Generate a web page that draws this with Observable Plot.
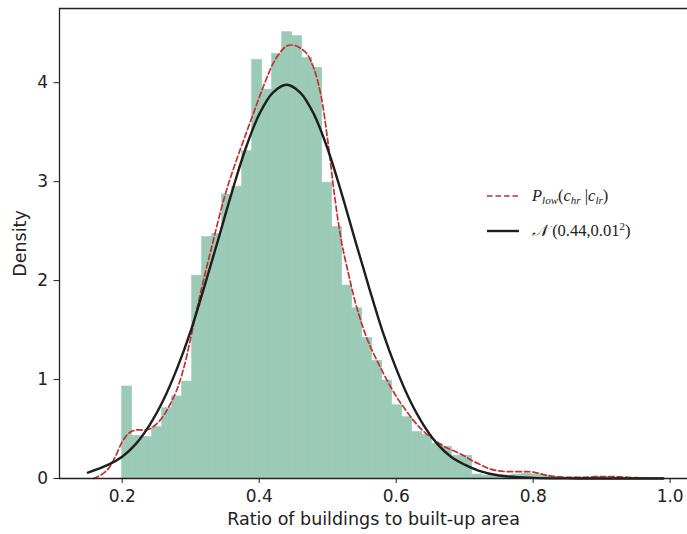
<!DOCTYPE html>
<html><head><meta charset="utf-8">
<script src="https://cdn.jsdelivr.net/npm/d3@7"></script>
<script src="https://cdn.jsdelivr.net/npm/@observablehq/plot@0.6"></script>
<style>
html,body{margin:0;padding:0;background:#fff;overflow:hidden}
#wrap{position:relative;width:687px;height:534px}
#legend{position:absolute;left:0;top:0;pointer-events:none}
</style></head><body><div id="wrap"></div>
<script>
// Histogram (density) — bins start at 0.2, width ~0.0146
const binStart = 0.2;
const binWidth = 0.0146;
const histDensity = [
  0.93, 0.43, 0.42, 0.52, 0.71, 0.83, 0.98, 2.05, 2.44, 2.47,
  2.87, 2.95, 3.31, 4.23, 3.93, 4.29, 4.51, 4.47, 4.25, 4.15,
  2.99, 2.54, 1.95, 1.72, 1.42, 1.19, 0.99, 0.74, 0.62, 0.47,
  0.44, 0.35, 0.32, 0.23, 0.23, 0.04, 0.03, 0.03, 0.03, 0.04,
  0.05, 0.04, 0.03, 0.02, 0.01, 0.01, 0.01, 0.015, 0.015, 0.01,
  0.008, 0.005, 0.003, 0.003
];

// KDE curve P_low(c_hr | c_lr)
const kdeX = [0.158,0.170,0.180,0.190,0.200,0.210,0.220,0.230,0.240,0.250,
  0.260,0.270,0.280,0.290,0.300,0.310,0.320,0.330,0.340,0.350,
  0.360,0.370,0.380,0.390,0.400,0.410,0.420,0.430,0.440,0.450,
  0.460,0.470,0.480,0.490,0.500,0.510,0.520,0.530,0.540,0.550,
  0.560,0.575,0.590,0.601,0.613,0.626,0.638,0.650,0.662,0.674,
  0.687,0.699,0.711,0.723,0.735,0.747,0.760,0.775,0.790,0.800,
  0.810,0.820,0.835,0.850,0.870,0.890,0.910,0.930,0.950,0.970,0.990];
const kdeY = [0.0,0.04,0.10,0.22,0.37,0.46,0.49,0.49,0.50,0.55,
  0.63,0.75,0.90,1.12,1.42,1.74,2.04,2.32,2.60,2.86,
  3.08,3.28,3.47,3.66,3.85,4.03,4.19,4.30,4.37,4.38,
  4.35,4.29,4.14,3.88,3.42,2.86,2.40,2.08,1.79,1.56,
  1.37,1.15,0.95,0.82,0.70,0.58,0.49,0.42,0.36,0.31,
  0.27,0.23,0.18,0.14,0.10,0.08,0.07,0.07,0.07,0.065,
  0.05,0.03,0.018,0.012,0.012,0.018,0.02,0.015,0.008,0.004,0.002];

// Normal curve N(0.44, 0.01^2)
const normX = [0.150,0.180,0.200,0.220,0.240,0.260,0.280,0.300,0.320,0.340,
  0.360,0.380,0.400,0.420,0.440,0.460,0.480,0.500,0.520,0.540,
  0.560,0.580,0.600,0.620,0.640,0.660,0.680,0.700,0.720,0.750,
  0.800,0.850,0.900,0.990];
const normY = [0.06,0.14,0.22,0.35,0.54,0.79,1.11,1.49,1.94,2.41,
  2.89,3.33,3.68,3.90,3.98,3.90,3.68,3.33,2.89,2.41,
  1.94,1.49,1.11,0.79,0.54,0.35,0.22,0.14,0.08,0.03,
  0.006,0.001,0.0,0.0];

const xTicks = [0.2, 0.4, 0.6, 0.8, 1.0];
const yTicks = [0, 1, 2, 3, 4];
const xDomain = [0.1085, 1.0253];
const yDomain = [0, 4.75];
const xLabel = "Ratio of buildings to built-up area";
const yLabel = "Density";

const bins = histDensity.map((d, i) => ({
  x1: binStart + i * binWidth,
  x2: binStart + (i + 1) * binWidth,
  y: d
}));
const kde = kdeX.map((x, i) => ({x, y: kdeY[i]}));
const norm = normX.map((x, i) => ({x, y: normY[i]}));

const font = "DejaVu Sans, sans-serif";
const barColor = "#9bcab7";
const chart = Plot.plot({
  width: 687,
  height: 534,
  marginLeft: 59,
  marginRight: 0,
  marginTop: 8,
  marginBottom: 56,
  style: {fontFamily: font, fontSize: "17px", color: "#222", background: "#fff", overflow: "visible"},
  x: {domain: xDomain, ticks: xTicks, tickFormat: d3.format(".1f"), tickSize: 5, tickPadding: 6, label: null},
  y: {domain: yDomain, ticks: yTicks, tickFormat: d3.format("d"), tickSize: 5.5, tickPadding: 6, label: null},
  marks: [
    Plot.rectY(bins, {x1: "x1", x2: "x2", y1: 0, y2: "y", fill: barColor, stroke: barColor, strokeWidth: 0.6, inset: 0}),
    Plot.line(kde, {x: "x", y: "y", stroke: "#c43030", strokeWidth: 1.7, strokeDasharray: "5.5,3", curve: "catmull-rom"}),
    Plot.line(norm, {x: "x", y: "y", stroke: "#1e1e1e", strokeWidth: 2.4, curve: "catmull-rom"}),
    Plot.ruleY([yDomain[0]], {stroke: "#222", strokeWidth: 1.3}),
    Plot.ruleY([yDomain[1]], {stroke: "#222", strokeWidth: 1.3}),
    Plot.ruleX([xDomain[0]], {stroke: "#222", strokeWidth: 1.3}),
    Plot.text([xLabel], {frameAnchor: "bottom", textAnchor: "middle", lineAnchor: "middle", dy: 41, text: d => d, fontSize: 17.5, fill: "#222"}),
    Plot.text([yLabel], {frameAnchor: "left", textAnchor: "middle", lineAnchor: "middle", dx: -39, rotate: -90, text: d => d, fontSize: 17.5, fill: "#222"})
  ]
});
const wrap = document.getElementById("wrap");
wrap.appendChild(chart);

// Legend overlay
const ns = "http://www.w3.org/2000/svg";
const leg = document.createElementNS(ns, "svg");
leg.setAttribute("id", "legend");
leg.setAttribute("width", 687);
leg.setAttribute("height", 534);
leg.innerHTML = `
  <line x1="487" x2="519" y1="196" y2="196" stroke="#c43030" stroke-width="1.7" stroke-dasharray="5.5,3"/>
  <line x1="487" x2="519" y1="231" y2="231" stroke="#1e1e1e" stroke-width="2.4"/>
  <text x="532" y="201" font-family="Liberation Serif, DejaVu Serif, serif" font-size="16.5" fill="#222"><tspan font-style="italic">P</tspan><tspan font-style="italic" font-size="11" dy="3">low</tspan><tspan dy="-3">(</tspan><tspan font-style="italic">c</tspan><tspan font-style="italic" font-size="11" dy="3">hr</tspan><tspan dy="-3"> |</tspan><tspan font-style="italic">c</tspan><tspan font-style="italic" font-size="11" dy="3">lr</tspan><tspan dy="-3">)</tspan></text>
  <text x="532" y="236" font-family="Liberation Serif, DejaVu Serif, serif" font-size="16.5" fill="#222"><tspan font-style="italic">𝒩</tspan><tspan> (0.44,0.01</tspan><tspan font-size="11" dy="-6">2</tspan><tspan dy="6">)</tspan></text>
`;
wrap.appendChild(leg);
</script>
</body></html>
